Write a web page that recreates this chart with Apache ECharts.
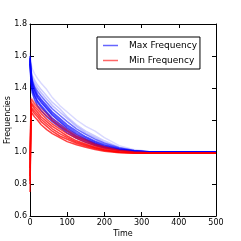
<!DOCTYPE html>
<html>
<head>
<meta charset="utf-8">
<script src="https://cdn.jsdelivr.net/npm/echarts@6/dist/echarts.min.js"></script>
<style>html,body{margin:0;padding:0;background:#fff;}#c{width:241px;height:241px;}</style>
</head>
<body>
<div id="c"></div>
<script>
const times = [0, 3, 6, 12, 20, 30, 45, 60, 80, 100, 125, 150, 175, 200, 240, 280, 320, 400, 500];

const maxRun1 = [1.55,1.42,1.37,1.33,1.29,1.26,1.22,1.19,1.155,1.12,1.085,1.06,1.04,1.025,1.01,1.002,1.0,1.0,1.0];
const maxRun2 = [1.57,1.45,1.40,1.36,1.32,1.29,1.25,1.21,1.175,1.14,1.10,1.075,1.05,1.032,1.013,1.004,1.0,1.0,1.0];
const maxRun3 = [1.58,1.47,1.42,1.38,1.34,1.31,1.27,1.23,1.19,1.15,1.11,1.08,1.055,1.035,1.015,1.005,1.0,1.0,1.0];
const maxRun4 = [1.59,1.49,1.44,1.40,1.36,1.33,1.29,1.25,1.21,1.17,1.13,1.095,1.067,1.045,1.02,1.007,1.001,1.0,1.0];
const maxRun5 = [1.60,1.50,1.45,1.41,1.38,1.35,1.31,1.27,1.23,1.19,1.145,1.11,1.08,1.055,1.025,1.01,1.002,1.0,1.0];
const maxRun6 = [1.60,1.52,1.48,1.45,1.42,1.39,1.35,1.31,1.27,1.22,1.17,1.13,1.10,1.07,1.03,1.01,1.0,1.0,1.0];
const maxRun7 = [1.62,1.55,1.52,1.49,1.46,1.43,1.39,1.34,1.29,1.25,1.20,1.16,1.13,1.09,1.04,1.015,1.003,1.0,1.0];
const maxRun8 = [1.58,1.50,1.46,1.43,1.40,1.37,1.33,1.29,1.25,1.21,1.16,1.12,1.09,1.06,1.028,1.01,1.0,1.0,1.0];
const maxRun9 = [1.56,1.44,1.39,1.35,1.31,1.28,1.24,1.20,1.165,1.13,1.093,1.068,1.045,1.028,1.012,1.003,1.0,1.0,1.0];
const maxRun10 = [1.59,1.48,1.43,1.39,1.35,1.32,1.28,1.24,1.20,1.16,1.12,1.088,1.061,1.04,1.017,1.006,1.0,1.0,1.0];

const minRun1 = [0.75,1.25,1.24,1.22,1.20,1.17,1.14,1.115,1.09,1.065,1.045,1.03,1.015,1.005,0.995,0.993,0.992,0.992,0.992];
const minRun2 = [0.80,1.27,1.26,1.24,1.22,1.19,1.16,1.13,1.10,1.08,1.055,1.038,1.022,1.01,0.998,0.994,0.992,0.992,0.992];
const minRun3 = [0.85,1.30,1.29,1.27,1.25,1.22,1.19,1.16,1.13,1.10,1.07,1.05,1.03,1.015,1.0,0.995,0.993,0.992,0.992];
const minRun4 = [0.90,1.31,1.305,1.285,1.265,1.24,1.205,1.175,1.145,1.115,1.085,1.06,1.038,1.022,1.004,0.996,0.993,0.992,0.992];
const minRun5 = [0.95,1.33,1.32,1.30,1.28,1.255,1.225,1.195,1.16,1.13,1.095,1.07,1.045,1.03,1.01,1.0,0.995,0.992,0.992];
const minRun6 = [0.98,1.34,1.33,1.31,1.29,1.27,1.24,1.21,1.175,1.14,1.105,1.078,1.052,1.035,1.012,1.0,0.995,0.992,0.992];
const minRun7 = [0.82,1.28,1.275,1.255,1.235,1.205,1.175,1.145,1.115,1.09,1.062,1.044,1.026,1.012,0.999,0.994,0.992,0.992,0.992];

const maxRuns = [maxRun1, maxRun2, maxRun3, maxRun4, maxRun5, maxRun6, maxRun7, maxRun8, maxRun9, maxRun10];
const minRuns = [minRun1, minRun2, minRun3, minRun4, minRun5, minRun6, minRun7];
const maxOpacity = [0.7, 0.7, 0.75, 0.65, 0.55, 0.2, 0.15, 0.25, 0.7, 0.6];
const minOpacity = [0.75, 0.75, 0.75, 0.7, 0.6, 0.35, 0.75];

const xTicks = {min: 0, max: 500, interval: 100};
const yTicks = {min: 0.6, max: 1.8, interval: 0.2};

const FONT = 'DejaVu Sans';
const series = [];
maxRuns.forEach((run, i) => {
  series.push({
    name: 'Max Frequency', type: 'line', showSymbol: false, symbol: 'none',
    data: times.map((t, j) => [t, run[j]]),
    lineStyle: {color: '#0000ff', width: 1.5, opacity: maxOpacity[i]},
    itemStyle: {color: '#0000ff'}, z: 2, silent: true
  });
});
minRuns.forEach((run, i) => {
  series.push({
    name: 'Min Frequency', type: 'line', showSymbol: false, symbol: 'none',
    data: times.map((t, j) => [t, run[j]]),
    lineStyle: {color: '#ff0000', width: 1.5, opacity: minOpacity[i]},
    itemStyle: {color: '#ff0000'}, z: 3, silent: true
  });
});

const axLine = {show: true, onZero: false, lineStyle: {color: '#000', width: 1}};
const axTick = {show: true, inside: true, length: 4, lineStyle: {color: '#000', width: 1}};

const chart = echarts.init(document.getElementById('c'), null, {renderer: 'canvas'});
chart.setOption({
  animation: false,
  backgroundColor: '#fff',
  textStyle: {fontFamily: FONT},
  grid: {left: 30, top: 24, right: 25, bottom: 25, containLabel: false, outerBoundsMode: 'none'},
  legend: {
    left: 97, top: 37, orient: 'vertical',
    backgroundColor: '#fff', borderColor: '#000', borderWidth: 1, borderRadius: 0,
    padding: [3, 3, 3, 6], itemGap: 4, itemWidth: 15, itemHeight: 1.5,
    textStyle: {fontFamily: FONT, fontSize: 9, color: '#000', lineHeight: 11, padding: [0, 0, 0, 6]},
    data: [
      {name: 'Max Frequency', icon: 'rect', itemStyle: {color: 'rgba(0,0,255,0.6)'}},
      {name: 'Min Frequency', icon: 'rect', itemStyle: {color: 'rgba(255,0,0,0.6)'}}
    ]
  },
  xAxis: [
    {type: 'value', min: xTicks.min, max: xTicks.max, interval: xTicks.interval, position: 'bottom',
     name: 'Time', nameLocation: 'middle', nameGap: 14, nameMoveOverlap: false,
     nameTextStyle: {fontFamily: FONT, fontSize: 8, color: '#000'},
     axisLine: axLine, axisTick: axTick,
     axisLabel: {fontFamily: FONT, fontSize: 8, color: '#000', margin: 3},
     splitLine: {show: false}},
    {type: 'value', min: xTicks.min, max: xTicks.max, interval: xTicks.interval, position: 'top',
     axisLine: axLine, axisTick: axTick, axisLabel: {show: false}, splitLine: {show: false}}
  ],
  yAxis: [
    {type: 'value', min: yTicks.min, max: yTicks.max, interval: yTicks.interval, position: 'left',
     name: 'Frequencies', nameLocation: 'middle', nameGap: 18, nameMoveOverlap: false,
     nameTextStyle: {fontFamily: FONT, fontSize: 8, color: '#000'},
     axisLine: axLine, axisTick: axTick,
     axisLabel: {fontFamily: FONT, fontSize: 8, color: '#000', margin: 3, formatter: v => v.toFixed(1)},
     splitLine: {show: false}},
    {type: 'value', min: yTicks.min, max: yTicks.max, interval: yTicks.interval, position: 'right',
     axisLine: axLine, axisTick: axTick, axisLabel: {show: false}, splitLine: {show: false}}
  ],
  series: series
});
</script>
</body>
</html>
